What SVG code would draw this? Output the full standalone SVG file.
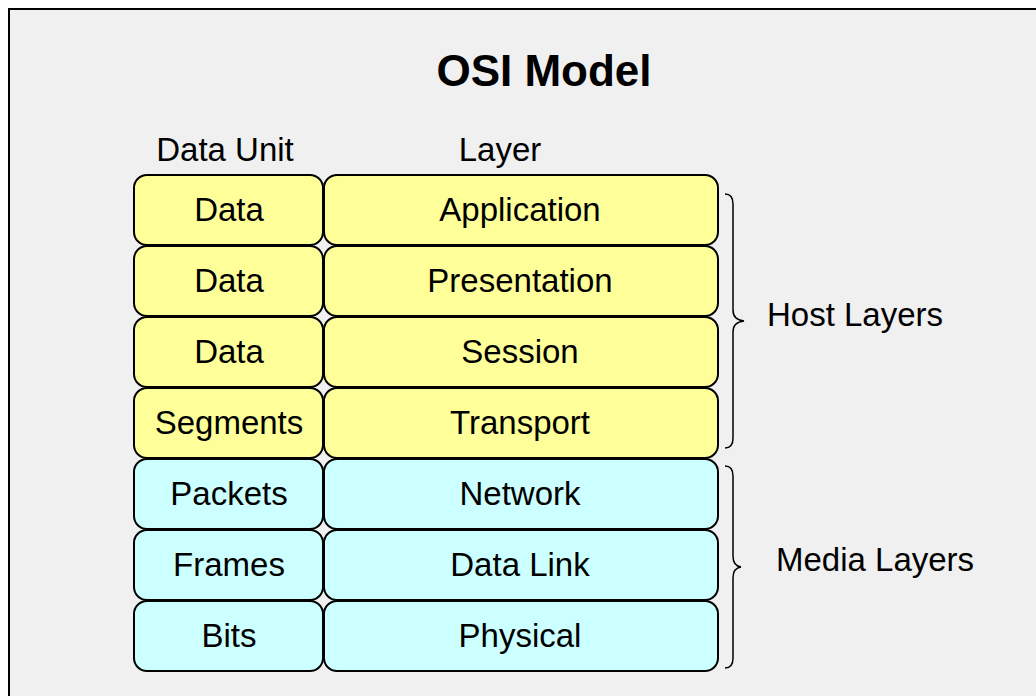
<svg xmlns="http://www.w3.org/2000/svg" width="1036" height="696" viewBox="0 0 1036 696">
  <style>
    .t { font-family: "Liberation Sans", Arial, sans-serif; font-size: 33px; fill: #000; text-anchor: middle; }
    .h { font-family: "Liberation Sans", Arial, sans-serif; font-size: 44px; font-weight: bold; fill: #000; text-anchor: middle; }
    .lbl { font-family: "Liberation Sans", Arial, sans-serif; font-size: 33px; fill: #000; }
    .host { fill: #ffff99; stroke: #000; stroke-width: 2; }
    .media { fill: #ccffff; stroke: #000; stroke-width: 2; }
    .brace { fill: none; stroke: #000; stroke-width: 1.5; }
  </style>
  <rect x="0" y="0" width="1036" height="696" fill="#ffffff"/>
  <rect x="9" y="9" width="1040" height="700" fill="#f0f0f0" stroke="#000" stroke-width="2"/>

  <text class="h" x="544" y="86">OSI Model</text>
  <text class="t" x="225" y="161">Data Unit</text>
  <text class="t" x="500" y="161">Layer</text>

  <g id="application">
    <rect class="host" x="134" y="175" width="189" height="70" rx="13"/>
    <rect class="host" x="324" y="175" width="394" height="70" rx="13"/>
    <text class="t" x="229" y="221">Data</text>
    <text class="t" x="520" y="221">Application</text>
  </g>
  <g id="presentation">
    <rect class="host" x="134" y="246" width="189" height="70" rx="13"/>
    <rect class="host" x="324" y="246" width="394" height="70" rx="13"/>
    <text class="t" x="229" y="292">Data</text>
    <text class="t" x="520" y="292">Presentation</text>
  </g>
  <g id="session">
    <rect class="host" x="134" y="317" width="189" height="70" rx="13"/>
    <rect class="host" x="324" y="317" width="394" height="70" rx="13"/>
    <text class="t" x="229" y="363">Data</text>
    <text class="t" x="520" y="363">Session</text>
  </g>
  <g id="transport">
    <rect class="host" x="134" y="388" width="189" height="70" rx="13"/>
    <rect class="host" x="324" y="388" width="394" height="70" rx="13"/>
    <text class="t" x="229" y="434">Segments</text>
    <text class="t" x="520" y="434">Transport</text>
  </g>
  <g id="network">
    <rect class="media" x="134" y="459" width="189" height="70" rx="13"/>
    <rect class="media" x="324" y="459" width="394" height="70" rx="13"/>
    <text class="t" x="229" y="505">Packets</text>
    <text class="t" x="520" y="505">Network</text>
  </g>
  <g id="datalink">
    <rect class="media" x="134" y="530" width="189" height="70" rx="13"/>
    <rect class="media" x="324" y="530" width="394" height="70" rx="13"/>
    <text class="t" x="229" y="576">Frames</text>
    <text class="t" x="520" y="576">Data Link</text>
  </g>
  <g id="physical">
    <rect class="media" x="134" y="601" width="189" height="70" rx="13"/>
    <rect class="media" x="324" y="601" width="394" height="70" rx="13"/>
    <text class="t" x="229" y="647">Bits</text>
    <text class="t" x="520" y="647">Physical</text>
  </g>

  <g id="connectors">
    <path class="brace" d="M725,194 Q733,194 733,204 L733,310 Q733,320 744,321 Q733,322 733,332 L733,438 Q733,448 725,448"/>
    <path class="brace" d="M725,466 Q733,466 733,476 L733,556 Q733,566 741,567 Q733,568 733,578 L733,658 Q733,668 725,668"/>
  </g>
  <text class="lbl" x="767" y="326">Host Layers</text>
  <text class="lbl" x="776" y="571">Media Layers</text>
</svg>
